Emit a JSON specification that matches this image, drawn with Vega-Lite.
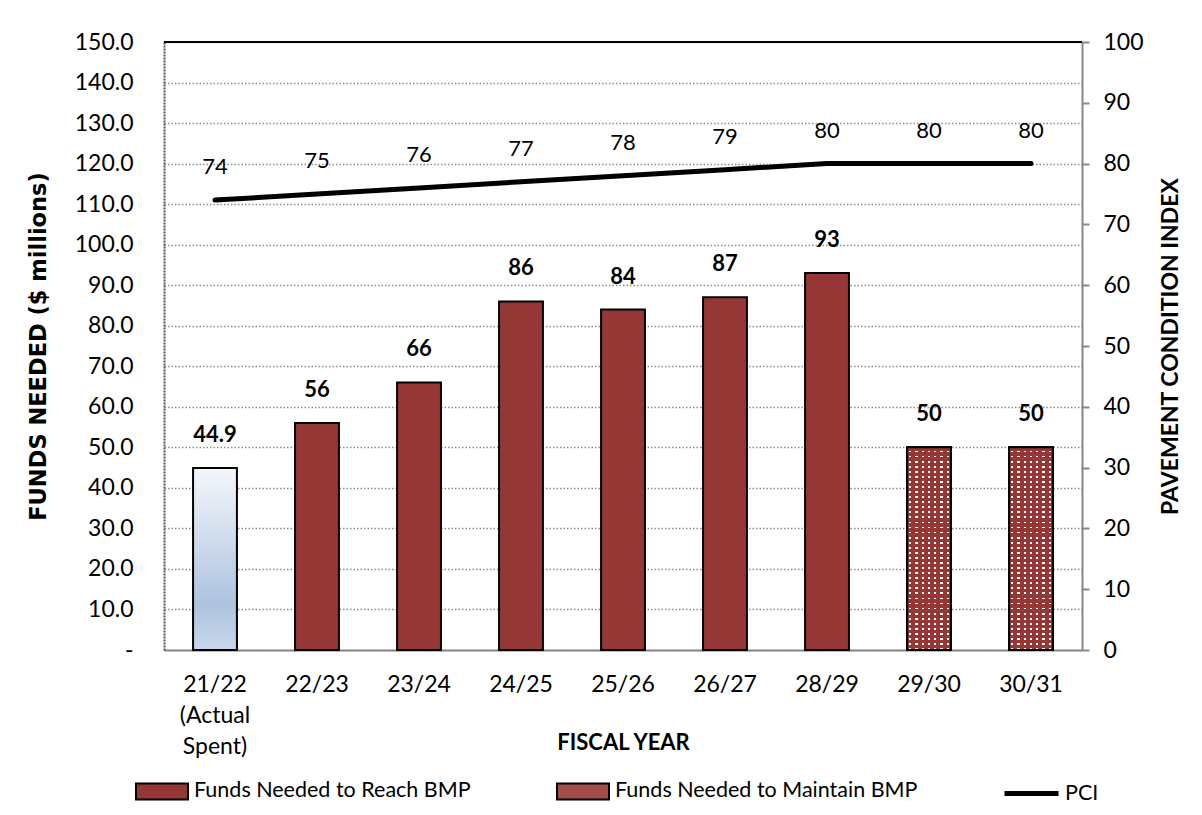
{
  "$schema": "https://vega.github.io/schema/vega-lite/v6.json",
  "width": 918,
  "height": 608,
  "autosize": {"type": "none"},
  "padding": {"left": 164, "top": 42, "right": 120, "bottom": 165},
  "background": "white",
  "config": {"font": "Lato", "view": {"stroke": null}},
  "data": {"values": [
    {"year": "21/22 (Actual Spent)", "funds": 44.9, "type": "Actual Spent", "pci": 74},
    {"year": "22/23", "funds": 56, "type": "Funds Needed to Reach BMP", "pci": 75},
    {"year": "23/24", "funds": 66, "type": "Funds Needed to Reach BMP", "pci": 76},
    {"year": "24/25", "funds": 86, "type": "Funds Needed to Reach BMP", "pci": 77},
    {"year": "25/26", "funds": 84, "type": "Funds Needed to Reach BMP", "pci": 78},
    {"year": "26/27", "funds": 87, "type": "Funds Needed to Reach BMP", "pci": 79},
    {"year": "28/29", "funds": 93, "type": "Funds Needed to Reach BMP", "pci": 80},
    {"year": "29/30", "funds": 50, "type": "Funds Needed to Maintain BMP", "pci": 80},
    {"year": "30/31", "funds": 50, "type": "Funds Needed to Maintain BMP", "pci": 80}
  ]},
  "layer": [
    {
      "layer": [
        {
          "transform": [{"filter": "datum.type == 'Actual Spent'"}],
          "mark": {"type": "bar", "stroke": "black", "strokeWidth": 2,
            "fill": {"gradient": "linear", "x1": 0, "y1": 0, "x2": 0, "y2": 1, "stops": [
              {"offset": 0, "color": "#f4f7fb"},
              {"offset": 0.75, "color": "#adc3df"},
              {"offset": 1, "color": "#c8d7eb"}
            ]}},
          "encoding": {
            "x": {"field": "year", "type": "nominal", "sort": null,
              "scale": {"paddingInner": 0.57, "paddingOuter": 0.285},
              "axis": {
                "labelExpr": "datum.label == '21/22 (Actual Spent)' ? ['21/22', '(Actual', 'Spent)'] : datum.label",
                "labelFontSize": 23, "labelColor": "black", "labelPadding": 23, "labelLineHeight": 31,
                "labelAngle": 0, "labelBaseline": "top", "ticks": false,
                "domainColor": "#868686", "domainWidth": 2,
                "title": "FISCAL YEAR", "titleFontSize": 22, "titleFontWeight": "bold", "titleColor": "black",
                "titleY": 92, "titleBaseline": "middle"
              }},
            "y": {"field": "funds", "type": "quantitative", "scale": {"domain": [0, 150], "nice": false},
              "axis": {
                "values": [0, 10, 20, 30, 40, 50, 60, 70, 80, 90, 100, 110, 120, 130, 140, 150],
                "labelExpr": "datum.value == 0 ? '-\u2002' : format(datum.value, '.1f')",
                "labelFontSize": 23, "labelColor": "black", "labelPadding": 31, "ticks": false,
                "domainColor": "#555555", "domainDash": [2, 1], "domainWidth": 2,
                "grid": true, "gridColor": "#8c8c8c", "gridDash": [1.5, 2], "gridWidth": 1.3,
                "title": "FUNDS NEEDED ($ millions)", "titleFont": "DejaVu Sans", "titleFontSize": 22.5, "titleFontWeight": "bold", "titleColor": "black",
                "titleX": -126, "titleY": 304, "titleAngle": 270, "titleAlign": "center", "titleBaseline": "middle"
              }}
          }
        },
        {
          "transform": [{"filter": "datum.type != 'Actual Spent'"}],
          "mark": {"type": "bar", "stroke": "black", "strokeWidth": 2},
          "encoding": {
            "x": {"field": "year", "type": "nominal", "sort": null},
            "y": {"field": "funds", "type": "quantitative"},
            "fill": {"field": "type", "type": "nominal",
              "scale": {"domain": ["Funds Needed to Reach BMP", "Funds Needed to Maintain BMP"], "range": ["#953735", "#a34c4a"]},
              "legend": {"title": null, "orient": "none", "legendX": -29, "legendY": 722, "direction": "horizontal",
                "symbolType": "M-1,-0.3077L1,-0.3077L1,0.3077L-1,0.3077Z", "symbolSize": 2704,
                "symbolStrokeColor": "black", "symbolStrokeWidth": 2, "symbolOpacity": 1,
                "labelFontSize": 21.5, "labelColor": "black", "labelOffset": 5, "labelLimit": 400, "columnPadding": 82}}
          }
        },
        {
          "transform": [{"filter": "datum.type == 'Funds Needed to Maintain BMP'"}],
          "mark": {"type": "bar",
            "fill": {"gradient": "linear", "x1": 0, "y1": 0, "x2": 1, "y2": 0, "stops": [
              {"offset": 0, "color": "#953735"}, {"offset": 0.0464, "color": "#953735"}, {"offset": 0.0464, "color": "#ffffff"}, {"offset": 0.0964, "color": "#ffffff"}, {"offset": 0.0964, "color": "#953735"},
              {"offset": 0.1893, "color": "#953735"}, {"offset": 0.1893, "color": "#ffffff"}, {"offset": 0.2393, "color": "#ffffff"}, {"offset": 0.2393, "color": "#953735"},
              {"offset": 0.3321, "color": "#953735"}, {"offset": 0.3321, "color": "#ffffff"}, {"offset": 0.3821, "color": "#ffffff"}, {"offset": 0.3821, "color": "#953735"},
              {"offset": 0.475, "color": "#953735"}, {"offset": 0.475, "color": "#ffffff"}, {"offset": 0.525, "color": "#ffffff"}, {"offset": 0.525, "color": "#953735"},
              {"offset": 0.6179, "color": "#953735"}, {"offset": 0.6179, "color": "#ffffff"}, {"offset": 0.6679, "color": "#ffffff"}, {"offset": 0.6679, "color": "#953735"},
              {"offset": 0.7607, "color": "#953735"}, {"offset": 0.7607, "color": "#ffffff"}, {"offset": 0.8107, "color": "#ffffff"}, {"offset": 0.8107, "color": "#953735"},
              {"offset": 0.9036, "color": "#953735"}, {"offset": 0.9036, "color": "#ffffff"}, {"offset": 0.9536, "color": "#ffffff"}, {"offset": 0.9536, "color": "#953735"},
              {"offset": 1, "color": "#953735"}
            ]}},
          "encoding": {
            "x": {"field": "year", "type": "nominal", "sort": null},
            "y": {"field": "funds", "type": "quantitative"}
          }
        },
        {
          "transform": [{"filter": "datum.type == 'Funds Needed to Maintain BMP'"}],
          "mark": {"type": "bar", "stroke": "black", "strokeWidth": 2,
            "fill": {"gradient": "linear", "x1": 0, "y1": 0, "x2": 0, "y2": 1, "stops": [
              {"offset": 0, "color": "#953735"}, {"offset": 0.016, "color": "#953735"}, {"offset": 0.016, "color": "rgba(149,55,53,0)"}, {"offset": 0.025, "color": "rgba(149,55,53,0)"},
              {"offset": 0.025, "color": "#953735"}, {"offset": 0.041, "color": "#953735"}, {"offset": 0.041, "color": "rgba(149,55,53,0)"}, {"offset": 0.05, "color": "rgba(149,55,53,0)"},
              {"offset": 0.05, "color": "#953735"}, {"offset": 0.066, "color": "#953735"}, {"offset": 0.066, "color": "rgba(149,55,53,0)"}, {"offset": 0.075, "color": "rgba(149,55,53,0)"},
              {"offset": 0.075, "color": "#953735"}, {"offset": 0.091, "color": "#953735"}, {"offset": 0.091, "color": "rgba(149,55,53,0)"}, {"offset": 0.1, "color": "rgba(149,55,53,0)"},
              {"offset": 0.1, "color": "#953735"}, {"offset": 0.116, "color": "#953735"}, {"offset": 0.116, "color": "rgba(149,55,53,0)"}, {"offset": 0.125, "color": "rgba(149,55,53,0)"},
              {"offset": 0.125, "color": "#953735"}, {"offset": 0.141, "color": "#953735"}, {"offset": 0.141, "color": "rgba(149,55,53,0)"}, {"offset": 0.15, "color": "rgba(149,55,53,0)"},
              {"offset": 0.15, "color": "#953735"}, {"offset": 0.166, "color": "#953735"}, {"offset": 0.166, "color": "rgba(149,55,53,0)"}, {"offset": 0.175, "color": "rgba(149,55,53,0)"},
              {"offset": 0.175, "color": "#953735"}, {"offset": 0.191, "color": "#953735"}, {"offset": 0.191, "color": "rgba(149,55,53,0)"}, {"offset": 0.2, "color": "rgba(149,55,53,0)"},
              {"offset": 0.2, "color": "#953735"}, {"offset": 0.216, "color": "#953735"}, {"offset": 0.216, "color": "rgba(149,55,53,0)"}, {"offset": 0.225, "color": "rgba(149,55,53,0)"},
              {"offset": 0.225, "color": "#953735"}, {"offset": 0.241, "color": "#953735"}, {"offset": 0.241, "color": "rgba(149,55,53,0)"}, {"offset": 0.25, "color": "rgba(149,55,53,0)"},
              {"offset": 0.25, "color": "#953735"}, {"offset": 0.266, "color": "#953735"}, {"offset": 0.266, "color": "rgba(149,55,53,0)"}, {"offset": 0.275, "color": "rgba(149,55,53,0)"},
              {"offset": 0.275, "color": "#953735"}, {"offset": 0.291, "color": "#953735"}, {"offset": 0.291, "color": "rgba(149,55,53,0)"}, {"offset": 0.3, "color": "rgba(149,55,53,0)"},
              {"offset": 0.3, "color": "#953735"}, {"offset": 0.316, "color": "#953735"}, {"offset": 0.316, "color": "rgba(149,55,53,0)"}, {"offset": 0.325, "color": "rgba(149,55,53,0)"},
              {"offset": 0.325, "color": "#953735"}, {"offset": 0.341, "color": "#953735"}, {"offset": 0.341, "color": "rgba(149,55,53,0)"}, {"offset": 0.35, "color": "rgba(149,55,53,0)"},
              {"offset": 0.35, "color": "#953735"}, {"offset": 0.366, "color": "#953735"}, {"offset": 0.366, "color": "rgba(149,55,53,0)"}, {"offset": 0.375, "color": "rgba(149,55,53,0)"},
              {"offset": 0.375, "color": "#953735"}, {"offset": 0.391, "color": "#953735"}, {"offset": 0.391, "color": "rgba(149,55,53,0)"}, {"offset": 0.4, "color": "rgba(149,55,53,0)"},
              {"offset": 0.4, "color": "#953735"}, {"offset": 0.416, "color": "#953735"}, {"offset": 0.416, "color": "rgba(149,55,53,0)"}, {"offset": 0.425, "color": "rgba(149,55,53,0)"},
              {"offset": 0.425, "color": "#953735"}, {"offset": 0.441, "color": "#953735"}, {"offset": 0.441, "color": "rgba(149,55,53,0)"}, {"offset": 0.45, "color": "rgba(149,55,53,0)"},
              {"offset": 0.45, "color": "#953735"}, {"offset": 0.466, "color": "#953735"}, {"offset": 0.466, "color": "rgba(149,55,53,0)"}, {"offset": 0.475, "color": "rgba(149,55,53,0)"},
              {"offset": 0.475, "color": "#953735"}, {"offset": 0.491, "color": "#953735"}, {"offset": 0.491, "color": "rgba(149,55,53,0)"}, {"offset": 0.5, "color": "rgba(149,55,53,0)"},
              {"offset": 0.5, "color": "#953735"}, {"offset": 0.516, "color": "#953735"}, {"offset": 0.516, "color": "rgba(149,55,53,0)"}, {"offset": 0.525, "color": "rgba(149,55,53,0)"},
              {"offset": 0.525, "color": "#953735"}, {"offset": 0.541, "color": "#953735"}, {"offset": 0.541, "color": "rgba(149,55,53,0)"}, {"offset": 0.55, "color": "rgba(149,55,53,0)"},
              {"offset": 0.55, "color": "#953735"}, {"offset": 0.566, "color": "#953735"}, {"offset": 0.566, "color": "rgba(149,55,53,0)"}, {"offset": 0.575, "color": "rgba(149,55,53,0)"},
              {"offset": 0.575, "color": "#953735"}, {"offset": 0.591, "color": "#953735"}, {"offset": 0.591, "color": "rgba(149,55,53,0)"}, {"offset": 0.6, "color": "rgba(149,55,53,0)"},
              {"offset": 0.6, "color": "#953735"}, {"offset": 0.616, "color": "#953735"}, {"offset": 0.616, "color": "rgba(149,55,53,0)"}, {"offset": 0.625, "color": "rgba(149,55,53,0)"},
              {"offset": 0.625, "color": "#953735"}, {"offset": 0.641, "color": "#953735"}, {"offset": 0.641, "color": "rgba(149,55,53,0)"}, {"offset": 0.65, "color": "rgba(149,55,53,0)"},
              {"offset": 0.65, "color": "#953735"}, {"offset": 0.666, "color": "#953735"}, {"offset": 0.666, "color": "rgba(149,55,53,0)"}, {"offset": 0.675, "color": "rgba(149,55,53,0)"},
              {"offset": 0.675, "color": "#953735"}, {"offset": 0.691, "color": "#953735"}, {"offset": 0.691, "color": "rgba(149,55,53,0)"}, {"offset": 0.7, "color": "rgba(149,55,53,0)"},
              {"offset": 0.7, "color": "#953735"}, {"offset": 0.716, "color": "#953735"}, {"offset": 0.716, "color": "rgba(149,55,53,0)"}, {"offset": 0.725, "color": "rgba(149,55,53,0)"},
              {"offset": 0.725, "color": "#953735"}, {"offset": 0.741, "color": "#953735"}, {"offset": 0.741, "color": "rgba(149,55,53,0)"}, {"offset": 0.75, "color": "rgba(149,55,53,0)"},
              {"offset": 0.75, "color": "#953735"}, {"offset": 0.766, "color": "#953735"}, {"offset": 0.766, "color": "rgba(149,55,53,0)"}, {"offset": 0.775, "color": "rgba(149,55,53,0)"},
              {"offset": 0.775, "color": "#953735"}, {"offset": 0.791, "color": "#953735"}, {"offset": 0.791, "color": "rgba(149,55,53,0)"}, {"offset": 0.8, "color": "rgba(149,55,53,0)"},
              {"offset": 0.8, "color": "#953735"}, {"offset": 0.816, "color": "#953735"}, {"offset": 0.816, "color": "rgba(149,55,53,0)"}, {"offset": 0.825, "color": "rgba(149,55,53,0)"},
              {"offset": 0.825, "color": "#953735"}, {"offset": 0.841, "color": "#953735"}, {"offset": 0.841, "color": "rgba(149,55,53,0)"}, {"offset": 0.85, "color": "rgba(149,55,53,0)"},
              {"offset": 0.85, "color": "#953735"}, {"offset": 0.866, "color": "#953735"}, {"offset": 0.866, "color": "rgba(149,55,53,0)"}, {"offset": 0.875, "color": "rgba(149,55,53,0)"},
              {"offset": 0.875, "color": "#953735"}, {"offset": 0.891, "color": "#953735"}, {"offset": 0.891, "color": "rgba(149,55,53,0)"}, {"offset": 0.9, "color": "rgba(149,55,53,0)"},
              {"offset": 0.9, "color": "#953735"}, {"offset": 0.916, "color": "#953735"}, {"offset": 0.916, "color": "rgba(149,55,53,0)"}, {"offset": 0.925, "color": "rgba(149,55,53,0)"},
              {"offset": 0.925, "color": "#953735"}, {"offset": 0.941, "color": "#953735"}, {"offset": 0.941, "color": "rgba(149,55,53,0)"}, {"offset": 0.95, "color": "rgba(149,55,53,0)"},
              {"offset": 0.95, "color": "#953735"}, {"offset": 0.966, "color": "#953735"}, {"offset": 0.966, "color": "rgba(149,55,53,0)"}, {"offset": 0.975, "color": "rgba(149,55,53,0)"},
              {"offset": 0.975, "color": "#953735"}, {"offset": 0.991, "color": "#953735"}, {"offset": 0.991, "color": "rgba(149,55,53,0)"}, {"offset": 1, "color": "rgba(149,55,53,0)"}
            ]}},
          "encoding": {
            "x": {"field": "year", "type": "nominal", "sort": null},
            "y": {"field": "funds", "type": "quantitative"}
          }
        },
        {
          "mark": {"type": "text", "fontWeight": "bold", "fontSize": 22, "dy": -33, "baseline": "middle", "color": "black"},
          "encoding": {
            "x": {"field": "year", "type": "nominal", "sort": null},
            "y": {"field": "funds", "type": "quantitative"},
            "text": {"field": "funds", "type": "quantitative", "format": ".3~g"}
          }
        },
        {
          "mark": {"type": "rule", "color": "black", "strokeWidth": 2},
          "encoding": {"y": {"datum": 150}}
        }
      ]
    },
    {
      "layer": [
        {
          "mark": {"type": "line", "strokeWidth": 5, "strokeCap": "round"},
          "encoding": {
            "x": {"field": "year", "type": "nominal", "sort": null},
            "y": {"field": "pci", "type": "quantitative", "scale": {"domain": [0, 100], "nice": false},
              "axis": {
                "orient": "right",
                "values": [0, 10, 20, 30, 40, 50, 60, 70, 80, 90, 100],
                "labelFontSize": 23, "labelColor": "black", "labelPadding": 14,
                "tickSize": 7, "tickColor": "#868686", "tickWidth": 2,
                "domainColor": "#868686", "domainWidth": 2, "grid": false,
                "title": "PAVEMENT CONDITION INDEX", "titleFontSize": 23, "titleFontWeight": "bold", "titleColor": "black",
                "titleAngle": 270, "titleX": 88, "titleY": 304, "titleAlign": "center", "titleBaseline": "middle"
              }},
            "stroke": {"datum": "PCI", "type": "nominal", "scale": {"range": ["black"]},
              "legend": {"title": null, "orient": "none", "legendX": 838, "legendY": 722,
                "symbolType": "stroke", "symbolSize": 2916, "symbolStrokeWidth": 5,
                "labelFontSize": 21.5, "labelColor": "black", "labelOffset": 4}}
          }
        },
        {
          "mark": {"type": "text", "fontSize": 22, "dy": -33, "baseline": "middle", "color": "black"},
          "encoding": {
            "x": {"field": "year", "type": "nominal", "sort": null},
            "y": {"field": "pci", "type": "quantitative"},
            "text": {"field": "pci", "type": "quantitative"}
          }
        }
      ]
    }
  ],
  "resolve": {"scale": {"y": "independent"}}
}
